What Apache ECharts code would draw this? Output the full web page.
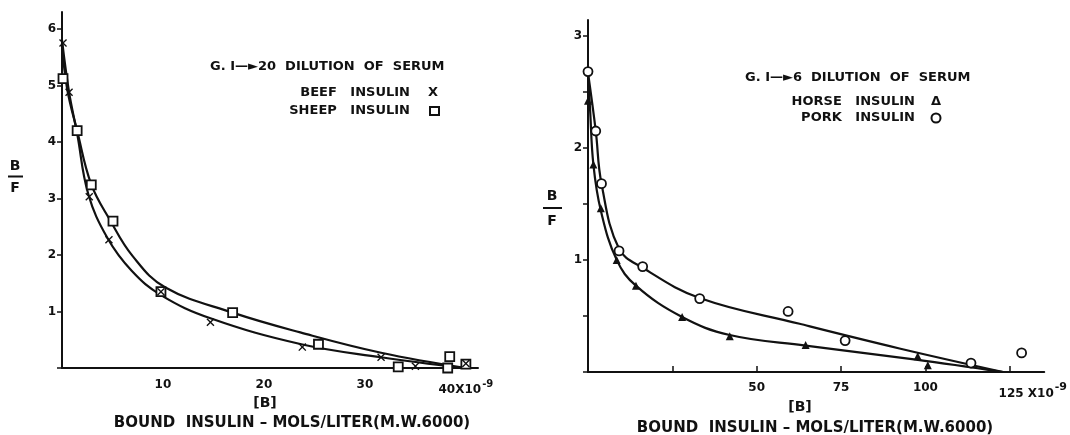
<!DOCTYPE html>
<html>
<head>
<meta charset="utf-8">
<script src="https://cdn.jsdelivr.net/npm/echarts@6/dist/echarts.min.js"></script>
<style>
html,body{margin:0;padding:0;background:#fff;}
#chart{width:1070px;height:435px;}
</style>
</head>
<body>
<div id="chart"></div>
<script>
// ---- Left panel: G.I 1->20 dilution of serum ----
const beefB  = [0.1, 0.7, 2.7, 4.65, 9.8, 14.7, 23.8, 31.6, 35.0, 40.0];
const beefBF = [5.75, 4.88, 3.03, 2.27, 1.35, 0.81, 0.37, 0.19, 0.03, 0.08];
const sheepB  = [0.1, 1.5, 2.9, 5.05, 9.8, 16.9, 25.4, 33.3, 38.2, 38.4, 40.0];
const sheepBF = [5.12, 4.2, 3.24, 2.6, 1.35, 0.98, 0.42, 0.02, 0.0, 0.2, 0.07];
// fitted curves
const beefCurveB  = [0, 0.7, 1.5, 2.6, 4.5, 6.9, 9.8, 14.7, 23.7, 31.6, 39.7];
const beefCurveBF = [5.8, 4.88, 4.15, 3.08, 2.3, 1.72, 1.29, 0.88, 0.42, 0.19, 0];
const sheepCurveB  = [0, 0.5, 1.5, 2.9, 4.75, 7.0, 10.2, 16.9, 23.6, 31.6, 40];
const sheepCurveBF = [5.75, 4.95, 4.2, 3.25, 2.62, 1.98, 1.43, 0.98, 0.63, 0.27, 0];
const leftXTicks = [10, 20, 30, 40];
const leftYTicks = [1, 2, 3, 4, 5, 6];

// ---- Right panel: G.I 1->6 dilution of serum ----
const horseB  = [0, 1.6, 3.8, 8.5, 14.2, 27.9, 42, 64.5, 97.7, 100.7];
const horseBF = [2.42, 1.85, 1.46, 1.0, 0.77, 0.49, 0.32, 0.24, 0.14, 0.06];
const porkB  = [0, 2.3, 4.0, 9.2, 16.2, 33.1, 59.3, 76.2, 113.5, 128.5];
const porkBF = [2.68, 2.15, 1.68, 1.08, 0.94, 0.655, 0.54, 0.28, 0.08, 0.17];
const horseCurveB  = [0, 0.6, 1.6, 3.8, 8.5, 14.2, 27.9, 42, 64.5, 97.2, 123];
const horseCurveBF = [2.65, 2.35, 1.85, 1.44, 1.0, 0.77, 0.49, 0.33, 0.235, 0.11, 0];
const porkCurveB  = [0, 2.3, 4.0, 9.2, 16.2, 33.1, 62.7, 92.3, 123];
const porkCurveBF = [2.67, 2.15, 1.68, 1.1, 0.93, 0.66, 0.43, 0.21, 0];
const rightXTicks = [50, 75, 100, 125];
const rightYTicks = [1, 2, 3];

const zip = (xs, ys) => xs.map((x, i) => [x, ys[i]]);
const FONT = 'DejaVu Sans';
const INK = '#111';
const X_SYMBOL = 'path://M0,1.2L1.2,0L5,3.8L8.8,0L10,1.2L6.2,5L10,8.8L8.8,10L5,6.2L1.2,10L0,8.8L3.8,5Z';

const chart = echarts.init(document.getElementById('chart'));

function axisLine() { return { show: true, lineStyle: { color: INK, width: 2 } }; }
const labelBase = { color: INK, fontFamily: FONT, fontWeight: 'bold', fontSize: 12 };

const lineSeries = (xi, yi, data) => ({
  type: 'line', xAxisIndex: xi, yAxisIndex: yi, data: data, smooth: 0.4,
  showSymbol: false, silent: true,
  lineStyle: { color: INK, width: 2.2 }, z: 2
});
const scatterSeries = (xi, yi, data, symbol, size, fill) => ({
  type: 'scatter', xAxisIndex: xi, yAxisIndex: yi, data: data, symbol: symbol, symbolSize: size,
  itemStyle: { color: fill, opacity: 1, borderColor: INK, borderWidth: fill === '#fff' ? 1.8 : 0 }, z: 3
});

const txt = (x, y, text, size, align, extra) => Object.assign({
  type: 'text', x: x, y: y,
  style: { text: text, font: 'bold ' + size + 'px "' + FONT + '"', fill: INK,
           textAlign: align || 'left', textVerticalAlign: 'middle' }
}, extra || {});
const bar = (x1, x2, y) => ({ type: 'line', shape: { x1: x1, y1: y, x2: x2, y2: y }, style: { stroke: INK, lineWidth: 2 } });

chart.setOption({
  backgroundColor: '#fff',
  animation: false,
  grid: [
    { left: 62, top: 12, width: 416, height: 356, containLabel: false },
    { left: 588, top: 20, width: 457, height: 352, containLabel: false }
  ],
  xAxis: [
    { type: 'value', gridIndex: 0, min: 0, max: 41.2, interval: 10,
      axisLine: axisLine(), axisTick: { show: false }, splitLine: { show: false },
      axisLabel: Object.assign({}, labelBase, { margin: 11, showMaxLabel: false,
        formatter: v => v === 40 ? '40X10{s|-9}' : (leftXTicks.indexOf(v) >= 0 ? String(v) : ''),
        rich: { s: { fontFamily: FONT, fontWeight: 'bold', fontSize: 10, color: INK, padding: [0, 0, 12, 1] } } }) },
    { type: 'value', gridIndex: 1, min: 0, max: 135.2, interval: 25,
      axisLine: axisLine(), axisTick: { show: true, inside: true, length: 6, lineStyle: { color: INK, width: 1.5 } },
      splitLine: { show: false },
      axisLabel: Object.assign({}, labelBase, { margin: 10, showMaxLabel: false,
        formatter: v => v === 125 ? '{p|}125 X10{s|-9}' : (rightXTicks.indexOf(v) >= 0 ? String(v) : ''),
        rich: { p: { width: 46 }, s: { fontFamily: FONT, fontWeight: 'bold', fontSize: 11, color: INK, padding: [0, 0, 12, 1] } } }) }
  ],
  yAxis: [
    { type: 'value', gridIndex: 0, min: 0, max: 6.3, interval: 1,
      axisLine: axisLine(), axisTick: { show: true, length: 5, lineStyle: { color: INK, width: 1.5 } },
      splitLine: { show: false },
      axisLabel: Object.assign({}, labelBase, { margin: 6, showMaxLabel: false,
        formatter: v => leftYTicks.indexOf(v) >= 0 ? String(v) : '' }) },
    { type: 'value', gridIndex: 1, min: 0, max: 3.14, interval: 0.5,
      axisLine: axisLine(), axisTick: { show: true, length: 5, lineStyle: { color: INK, width: 1.5 } },
      splitLine: { show: false },
      axisLabel: Object.assign({}, labelBase, { margin: 6, showMaxLabel: false,
        formatter: v => rightYTicks.indexOf(v) >= 0 ? String(v) : '' }) }
  ],
  series: [
    lineSeries(0, 0, zip(beefCurveB, beefCurveBF)),
    lineSeries(0, 0, zip(sheepCurveB, sheepCurveBF)),
    scatterSeries(0, 0, zip(sheepB, sheepBF), 'rect', 9, '#fff'),
    scatterSeries(0, 0, zip(beefB, beefBF), X_SYMBOL, 8, INK),
    lineSeries(1, 1, zip(horseCurveB, horseCurveBF)),
    lineSeries(1, 1, zip(porkCurveB, porkCurveBF)),
    scatterSeries(1, 1, zip(porkB, porkBF), 'circle', 9, '#fff'),
    scatterSeries(1, 1, zip(horseB, horseBF), 'triangle', 8, INK)
  ],
  graphic: [
    // left panel annotations
    txt(210, 67, 'G. I\u2014\u25BA20  DILUTION  OF  SERUM', 13),
    txt(410, 93, 'BEEF   INSULIN', 13, 'right'),
    txt(410, 111, 'SHEEP   INSULIN', 13, 'right'),
    txt(433, 93, 'X', 13, 'center'),
    { type: 'rect', shape: { x: 430, y: 107, width: 9, height: 8 }, style: { fill: '#fff', stroke: INK, lineWidth: 2 } },
    txt(15, 166, 'B', 14, 'center'), bar(8, 23, 176.5), txt(15, 188, 'F', 14, 'center'),
    txt(265, 403, '[B]', 14, 'center'),
    txt(292, 423, 'BOUND  INSULIN \u2013 MOLS/LITER(M.W.6000)', 15, 'center'),
    // right panel annotations
    txt(745, 78, 'G. I\u2014\u25BA6  DILUTION  OF  SERUM', 13),
    txt(915, 102, 'HORSE   INSULIN', 13, 'right'),
    txt(915, 118, 'PORK   INSULIN', 13, 'right'),
    txt(936, 102, '\u0394', 13, 'center'),
    { type: 'circle', shape: { cx: 936, cy: 118, r: 4.5 }, style: { fill: '#fff', stroke: INK, lineWidth: 2 } },
    txt(552, 196, 'B', 14, 'center'), bar(543, 562, 208), txt(552, 221, 'F', 14, 'center'),
    txt(800, 407, '[B]', 14, 'center'),
    txt(815, 428, 'BOUND  INSULIN \u2013 MOLS/LITER(M.W.6000)', 15, 'center')
  ]
});
</script>
</body>
</html>
